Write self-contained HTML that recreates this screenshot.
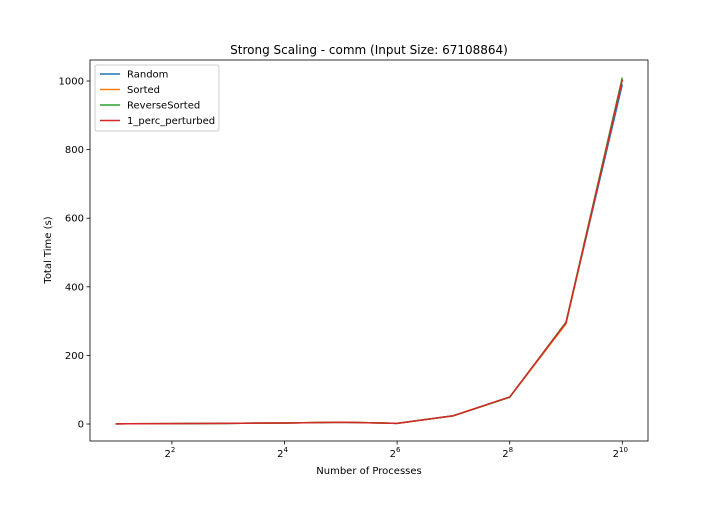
<!DOCTYPE html>
<html><head><meta charset="utf-8"><style>
body{margin:0;background:#fff;font-family:"Liberation Sans","DejaVu Sans",sans-serif;}
</style></head><body>
<svg id="chart" width="720" height="504" xmlns="http://www.w3.org/2000/svg" font-family="DejaVu Sans, Liberation Sans, sans-serif">
<rect width="720" height="504" fill="#fff"/>
<text x="369" y="54" text-anchor="middle" font-size="12">Strong Scaling - comm (Input Size: 67108864)</text>
<g id="plot"></g>
<text x="369" y="474" text-anchor="middle" font-size="10">Number of Processes</text>
<text transform="translate(51,250) rotate(-90)" text-anchor="middle" font-size="10">Total Time (s)</text>
</svg>
<script>
const procs=[2,4,8,16,32,64,128,256,512,1024];
const seriesNames=["Random","Sorted","ReverseSorted","1_perc_perturbed"];
const colors=["#1f77b4","#ff7f0e","#2ca02c","#d62728"];
const randomVals=[0.5,1,2,3,5,2,24,78,295,990];
const sortedVals=[0.5,1,2,3,5,2,24,78,292,1005];
const reverseVals=[0.5,1,2,3,5,2,24,78,297,1010];
const perturbedVals=[0.5,1,2,3,5,2,24,79,295,1003];
const yTicks=[0,200,400,600,800,1000];
const xTickExp=[2,4,6,8,10];
const allVals=[randomVals,sortedVals,reverseVals,perturbedVals];
const L=90,R=648,T=60,B=441;
const xs=e=>115.6+(e-1)*56.3;
const x=v=>xs(Math.log2(v));
const y=v=>424-v*0.343;
const NS="http://www.w3.org/2000/svg";
const g=document.getElementById('plot');
function mk(t,a){const el=document.createElementNS(NS,t);for(const k in a)el.setAttribute(k,a[k]);g.appendChild(el);return el;}
allVals.forEach((vals,i)=>{
  const p=mk('polyline',{points:vals.map((v,j)=>x(procs[j])+','+y(v)).join(' '),fill:'none',stroke:colors[i],'stroke-width':1.5});
  
  
});
const frame=mk('rect',{x:L,y:T,width:R-L,height:B-T,fill:'none',stroke:'#000','stroke-width':0.8});


yTicks.forEach(v=>{
  mk('line',{x1:L-3.5,x2:L,y1:y(v),y2:y(v),stroke:'#000','stroke-width':0.8});
  const t=mk('text',{x:L-6,y:y(v)+3.5,'text-anchor':'end','font-size':10});t.textContent=v;
  
  
});
xTickExp.forEach(e=>{
  const px=xs(e);
  mk('line',{x1:px,x2:px,y1:B,y2:B+3.5,stroke:'#000','stroke-width':0.8});
  const t=mk('text',{x:px-2,y:B+16,'text-anchor':'middle','font-size':10});
  t.innerHTML='2<tspan dy="-5" font-size="7">'+e+'</tspan>';
  
  
});
const lg=mk('rect',{x:95,y:65,width:124,height:66,fill:'#fff',stroke:'#ccc',rx:2});


seriesNames.forEach((n,i)=>{
  const yy=74+i*15.5;
  mk('line',{x1:100,x2:120,y1:yy,y2:yy,stroke:colors[i],'stroke-width':1.5});
  const t=mk('text',{x:127,y:yy+3.5,'font-size':10});t.textContent=n;
  
  
});
</script>
</body></html>
